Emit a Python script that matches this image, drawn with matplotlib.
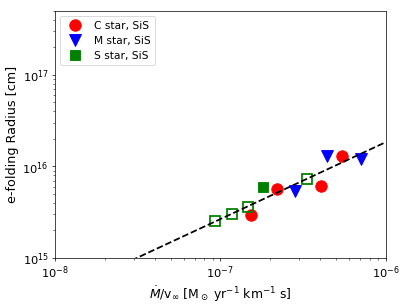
import numpy as np
import matplotlib
matplotlib.use('Agg')
import matplotlib.pyplot as plt

# C stars, SiS
c_x = [1.54e-7, 2.20e-7, 4.03e-7, 5.44e-7]
c_r = [2.91e15, 5.67e15, 6.17e15, 1.29e16]

# M stars, SiS
m_x = [2.82e-7, 4.38e-7, 7.03e-7]
m_r = [5.39e15, 1.31e16, 1.21e16]

# S stars, SiS (filled)
s_x = [1.81e-7]
s_r = [5.91e15]

# S stars, open symbols
so_x = [9.26e-8, 1.18e-7, 1.47e-7, 3.32e-7]
so_r = [2.52e15, 3.01e15, 3.61e15, 7.22e15]

# power-law fit: R = fit_norm * (x / 1e-6) ** fit_slope
fit_slope = 0.84
fit_norm = 1.84e16

fig = plt.figure(figsize=(6.4, 4.8), dpi=63.6)
ax = fig.add_axes([0.135, 0.154, 0.813, 0.81])

ax.plot(c_x, c_r, 'o', color='red', ms=13, ls='none', label='C star, SiS')
ax.plot(m_x, m_r, 'v', color='blue', ms=13, ls='none', label='M star, SiS')
ax.plot(s_x, s_r, 's', color='green', ms=12, ls='none', label='S star, SiS')
ax.plot(so_x, so_r, 's', mfc='none', mec='green', mew=2, ms=12, ls='none')

xf = np.logspace(-8, -6, 100)
ax.plot(xf, fit_norm * (xf / 1e-6) ** fit_slope, 'k--', lw=2)

ax.set_xscale('log')
ax.set_yscale('log')
ax.set_xlim(1e-8, 1e-6)
ax.set_ylim(1e15, 5e17)
ax.tick_params(labelsize=13)
ax.set_xlabel(r'$\dot{M}$/v$_\infty$ [M$_\odot$ yr$^{-1}$ km$^{-1}$ s]', fontsize=14)
ax.set_ylabel('e-folding Radius [cm]', fontsize=14.5)
ax.legend(loc='upper left', fontsize=12)

fig.savefig('out.png', dpi=63.6)
